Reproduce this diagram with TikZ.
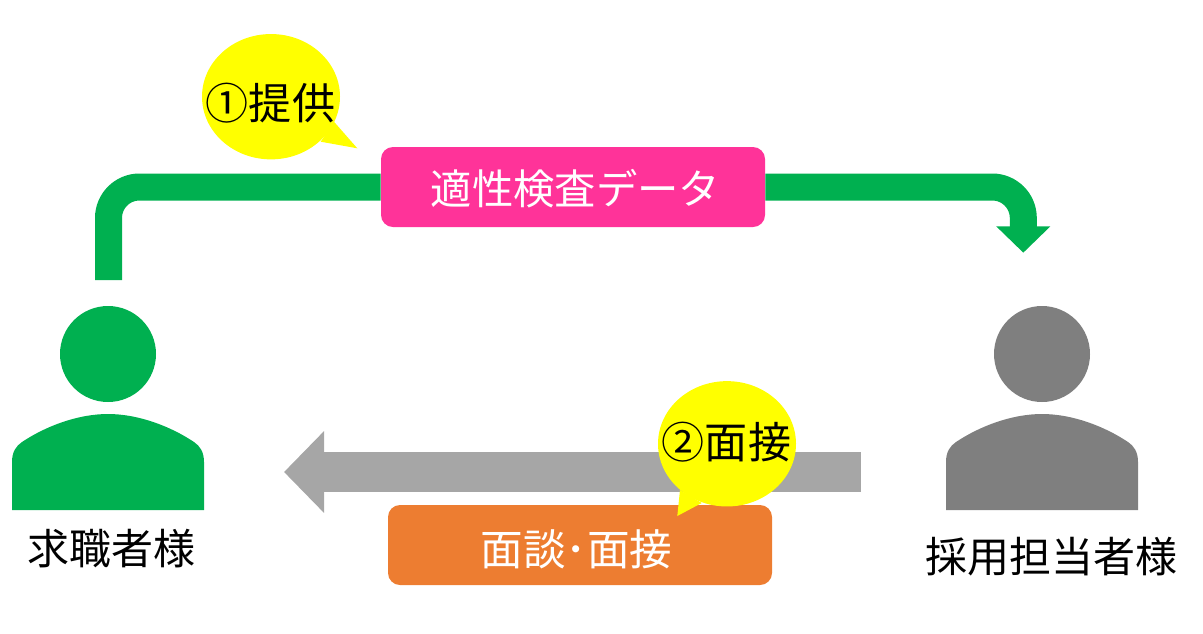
\documentclass[tikz,border=0pt]{standalone}
\usepackage{fontspec}
\setmainfont{Noto Sans CJK JP}
\usetikzlibrary{positioning}
\usetikzlibrary{arrows.meta,shapes.geometric}
\definecolor{seekergreen}{HTML}{00B050}
\definecolor{staffgray}{HTML}{7F7F7F}
\definecolor{arrowgray}{HTML}{A6A6A6}
\definecolor{databox}{HTML}{FF3399}
\definecolor{talkbox}{HTML}{ED7D31}
\definecolor{bubbleyellow}{rgb}{1,1,0}
\tikzstyle{labelbox}=[rectangle,rounded corners=9pt,minimum width=288pt,minimum height=60pt,inner sep=0pt,text=white,text depth=0pt]
\tikzstyle{bubble}=[ellipse,fill=bubbleyellow,minimum width=103.5pt,minimum height=94pt,inner sep=0pt]
\tikzstyle{bubbletext}=[inner sep=0pt,font=\fontsize{32.3}{32.3}\selectfont]
\tikzstyle{personname}=[inner sep=0pt,font=\fontsize{31.5}{31.5}\selectfont]
\tikzstyle{greenline} = [draw=seekergreen,line width=20.25pt,rounded corners=23.25pt]
\tikzstyle{grayline} = [draw=arrowgray,line width=30pt]

\begin{document}
\begin{tikzpicture}[x=0.75pt,y=-0.75pt]
    \useasboundingbox (0,0) rectangle (1203,633);

    \foreach \pos/\name/\col in {{(108,354)/seeker/seekergreen}, {(1042,354)/staff/staffgray}}
    {
        \node[circle,fill=\col,minimum size=72pt,inner sep=0pt] (\name) at \pos {};
        \fill[\col,shift={\pos}] (-96,156) -- (-96,108) .. controls (-96,98) and (-92,92) .. (-86,88)
            .. controls (-62,72) and (-30,60) .. (0,60) .. controls (30,60) and (62,72) .. (86,88)
            .. controls (92,92) and (96,98) .. (96,108) -- (96,156) -- cycle;
    }
    \node[personname] (seekername) at (111,549) {求職者様};
    \node[personname] (staffname) at (1051,557) {採用担当者様};

    \node[labelbox,fill=databox] (data) at (573,187) {};
    \node[labelbox,fill=talkbox] (talk) at (580,545) {};
    \node[inner sep=0pt,text=white,font=\fontsize{31}{31}\selectfont] (datatext) at (575.5,189) {適性検査データ};
    \node[inner sep=0pt,text=white,font=\fontsize{32}{32}\selectfont] (talktext) at (576.5,549) {面談･面接};

    \coordinate (greenstart) at (108.5,280);
    \coordinate (greenend) at (1023.3,252.7);
    \coordinate (graystart) at (861,472);
    \coordinate (graytip) at (284,472);

    \draw[greenline] (greenstart) |- (data.west);
    \draw[greenline,-{Triangle[width=39.5pt,length=19.8pt]}] (data.east) -| (greenend);
    \draw[grayline,-{Triangle[width=59.5pt,length=30pt]}] (graystart) -- (graytip);

    \node[bubble] (bubbleone) at (271,96.7) {};
    \fill[bubbleyellow] (334,121.7) -- (357.3,148.3) -- (320.7,141.7) -- cycle;
    \node[bubbletext] (offer) at (270.5,103) {①提供};

    \node[bubble] (bubbletwo) at (727,443.8) {};
    \fill[bubbleyellow] (680,490) -- (677.3,516) -- (701.7,503) -- cycle;
    \node[bubbletext] (interview) at (726.5,442) {②面接};
\end{tikzpicture}
\end{document}
